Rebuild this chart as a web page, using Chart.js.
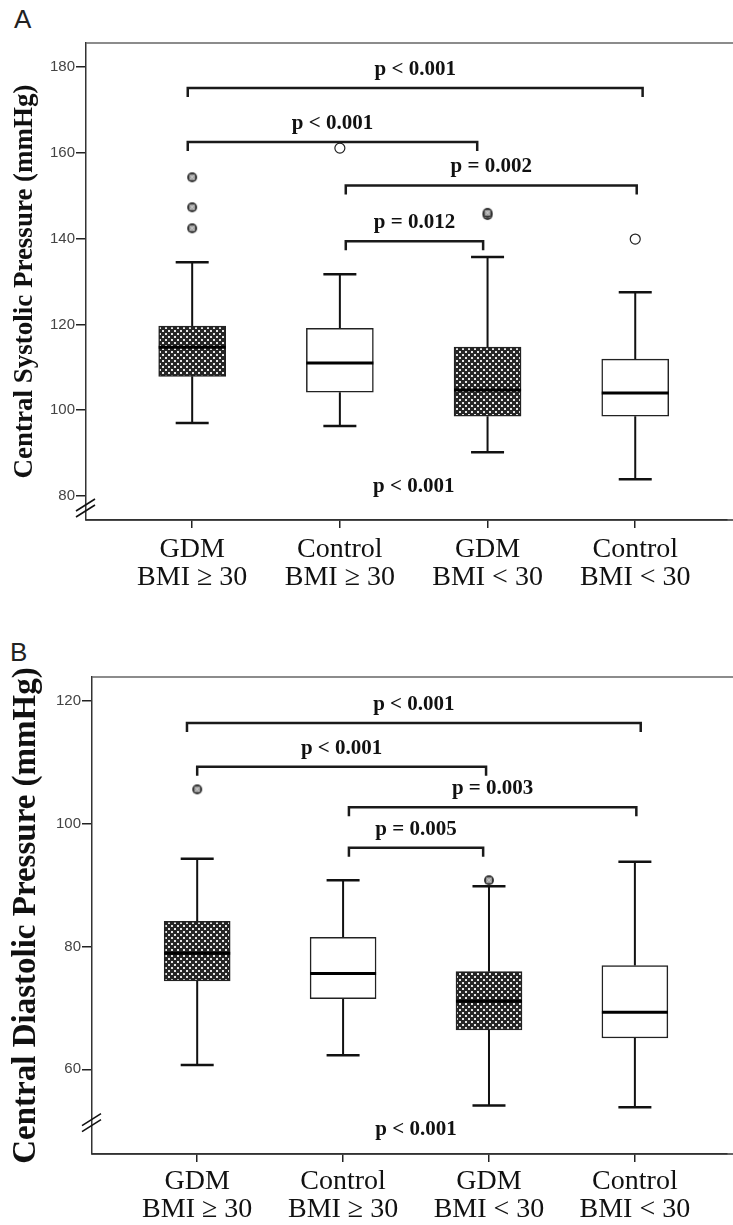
<!DOCTYPE html>
<html>
<head>
<meta charset="utf-8">
<script src="https://cdn.jsdelivr.net/npm/chart.js@4.4.0/dist/chart.umd.min.js"></script>
<style>
  body { margin: 0; background: #fff; width: 733px; height: 1225px; position: relative; overflow: hidden; }
  .panel { position: absolute; font: 26px "Liberation Sans", Arial, sans-serif; color: #222; }
  canvas { position: absolute; left: 0; }
</style>
</head>
<body>
<div class="panel" style="left:14px; top:4px">A</div>
<div class="panel" style="left:10px; top:637px">B</div>
<canvas id="chartA" width="733" height="591" style="top:0"></canvas>
<canvas id="chartB" width="733" height="591" style="top:634px"></canvas>
<script>
// groups along the x axis
const groups = ["GDM", "Control", "GDM", "Control"];
const bmiLabels = ["BMI \u2265 30", "BMI \u2265 30", "BMI < 30", "BMI < 30"];
const hatched = [true, false, true, false];

// A - central systolic pressure (mmHg)
const sysLow = [97.0, 96.3, 90.2, 83.9];
const sysQ1 = [107.9, 104.2, 98.6, 98.6];
const sysMedian = [114.7, 111.0, 104.7, 104.0];
const sysQ3 = [119.6, 119.1, 114.7, 111.9];
const sysHigh = [134.5, 131.7, 135.7, 127.5];
const sysOutliers = [[154.3, 147.3, 142.4], [161.1], [145.5, 146.0], [139.9]];
const sysTicks = [80, 100, 120, 140, 160, 180];
const sysBrackets = [
  { from: 0.97, to: 4.05, y: 175.1, text: "p < 0.001" },
  { from: 0.97, to: 2.93, y: 162.5, text: "p < 0.001" },
  { from: 2.04, to: 4.01, y: 152.4, text: "p = 0.002" },
  { from: 2.04, to: 2.97, y: 139.4, text: "p = 0.012" }
];

// B - central diastolic pressure (mmHg)
const diaLow = [60.7, 62.3, 54.1, 53.8];
const diaQ1 = [74.4, 71.5, 66.4, 65.1];
const diaMedian = [78.9, 75.6, 71.1, 69.3];
const diaQ3 = [84.1, 81.5, 75.9, 76.9];
const diaHigh = [94.3, 90.8, 89.8, 93.8];
const diaOutliers = [[105.6], [], [90.8], []];
const diaTicks = [60, 80, 100, 120];
const diaBrackets = [
  { from: 0.93, to: 4.04, y: 116.4, text: "p < 0.001" },
  { from: 1.0, to: 2.98, y: 109.3, text: "p < 0.001" },
  { from: 2.04, to: 4.01, y: 102.7, text: "p = 0.003" },
  { from: 2.04, to: 2.96, y: 96.1, text: "p = 0.005" }
];

// crosshatch fill for the GDM boxes
const tile = document.createElement("canvas");
tile.width = 6; tile.height = 6;
const tctx = tile.getContext("2d");
tctx.fillStyle = "#262626";
tctx.fillRect(0, 0, 6, 6);
tctx.fillStyle = "#e6e6e6";
tctx.fillRect(0, 0, 2, 2);
tctx.fillRect(3, 3, 2, 2);

// outlier symbol for the GDM groups
const dotImg = document.createElement("canvas");
dotImg.width = 12; dotImg.height = 12;
(function () {
  const c = dotImg.getContext("2d");
  c.fillStyle = "#333";
  c.beginPath(); c.arc(6, 6, 5, 0, Math.PI * 2); c.fill();
  c.strokeStyle = "#c8c8c8"; c.lineWidth = 1.2;
  c.beginPath();
  c.moveTo(3.5, 3.5); c.lineTo(8.5, 8.5);
  c.moveTo(8.5, 3.5); c.lineTo(3.5, 8.5);
  c.stroke();
  c.beginPath(); c.arc(6, 6, 2.2, 0, Math.PI * 2); c.stroke();
})();

function extrasPlugin(d) {
  return {
    id: "boxExtras",
    beforeDatasetsDraw(chart) {
      const { ctx, scales: { x, y } } = chart;
      ctx.save();
      ctx.strokeStyle = "#111";
      d.low.forEach((lo, i) => {
        const cx = x.getPixelForValue(i + 1);
        ctx.lineWidth = 2;
        ctx.beginPath();
        ctx.moveTo(cx, y.getPixelForValue(d.q3[i]));
        ctx.lineTo(cx, y.getPixelForValue(d.high[i]));
        ctx.moveTo(cx, y.getPixelForValue(d.q1[i]));
        ctx.lineTo(cx, y.getPixelForValue(lo));
        ctx.stroke();
        ctx.lineWidth = 2.5;
        ctx.beginPath();
        [d.high[i], lo].forEach(v => {
          const py = y.getPixelForValue(v);
          ctx.moveTo(cx - 16.5, py);
          ctx.lineTo(cx + 16.5, py);
        });
        ctx.stroke();
      });
      ctx.restore();
    },
    afterDatasetsDraw(chart) {
      const { ctx, chartArea, scales: { x, y } } = chart;
      const boxes = chart.getDatasetMeta(0).data;
      ctx.save();
      // medians
      ctx.strokeStyle = "#000";
      ctx.lineWidth = 3;
      d.median.forEach((m, i) => {
        const bar = boxes[i];
        const py = y.getPixelForValue(m);
        ctx.beginPath();
        ctx.moveTo(bar.x - bar.width / 2, py);
        ctx.lineTo(bar.x + bar.width / 2, py);
        ctx.stroke();
      });
      // brackets with p values
      ctx.font = "bold 21px 'Liberation Serif', serif";
      ctx.fillStyle = "#111";
      ctx.textAlign = "center";
      ctx.textBaseline = "alphabetic";
      ctx.strokeStyle = "#1a1a1a";
      ctx.lineWidth = 2.5;
      d.brackets.forEach(b => {
        const x1 = x.getPixelForValue(b.from);
        const x2 = x.getPixelForValue(b.to);
        const py = y.getPixelForValue(b.y);
        ctx.beginPath();
        ctx.moveTo(x1, py + 9);
        ctx.lineTo(x1, py);
        ctx.lineTo(x2, py);
        ctx.lineTo(x2, py + 9);
        ctx.stroke();
        ctx.fillText(b.text, (x1 + x2) / 2, py - 13);
      });
      ctx.fillText("p < 0.001", x.getPixelForValue(2.5), y.getPixelForValue(d.bottomY));
      // top frame line, and the bottom axis running on to the page edge
      ctx.strokeStyle = "#666";
      ctx.lineWidth = 1.5;
      ctx.beginPath();
      ctx.moveTo(chartArea.left, chartArea.top);
      ctx.lineTo(chart.width, chartArea.top);
      ctx.stroke();
      ctx.strokeStyle = "#333";
      ctx.beginPath();
      ctx.moveTo(chartArea.left, x.top);
      ctx.lineTo(chart.width, x.top);
      ctx.stroke();
      // axis break
      const by = y.getPixelForValue(d.breakY);
      ctx.strokeStyle = "#111";
      ctx.lineWidth = 1.6;
      ctx.beginPath();
      [-3, 3].forEach(o => {
        ctx.moveTo(chartArea.left - 10, by + o + 6);
        ctx.lineTo(chartArea.left + 9, by + o - 6);
      });
      ctx.stroke();
      ctx.restore();
    }
  };
}

function makeChart(id, d) {
  const outliers = [];
  d.outliers.forEach((list, i) => list.forEach(v => outliers.push({ x: i + 1, y: v })));
  const pattern = document.getElementById(id).getContext("2d").createPattern(tile, "repeat");

  return new Chart(document.getElementById(id), {
    type: "bar",
    data: {
      datasets: [
        {
          data: d.q1.map((q, i) => ({ x: i + 1, y: [q, d.q3[i]] })),
          backgroundColor: hatched.map(h => h ? pattern : "#fff"),
          borderColor: "#222",
          borderWidth: 1.5,
          borderSkipped: false,
          barThickness: d.boxWidth,
          order: 2
        },
        {
          type: "scatter",
          data: outliers,
          pointStyle: c => hatched[c.raw.x - 1] ? dotImg : "circle",
          pointRadius: 5,
          backgroundColor: "#fff",
          borderColor: "#222",
          borderWidth: 1.2,
          order: 1
        }
      ]
    },
    options: {
      responsive: false,
      animation: false,
      layout: { padding: { top: 43, left: 0, right: 0, bottom: 0 } },
      plugins: { legend: { display: false }, tooltip: { enabled: false } },
      scales: {
        x: {
          type: "linear",
          offset: false,
          min: d.xMin,
          max: d.xMax,
          afterBuildTicks: s => { s.ticks = groups.map((g, i) => ({ value: i + 1 })); },
          afterFit: s => { s.height = 71; s.paddingLeft = 0; s.paddingRight = 0; },
          ticks: {
            autoSkip: false,
            maxRotation: 0,
            padding: d.labelPad,
            color: "#111",
            font: { family: "'Liberation Serif', serif", size: 28, lineHeight: 0.98 },
            callback: v => [groups[v - 1], bmiLabels[v - 1]]
          },
          grid: { display: true, offset: false, drawOnChartArea: false, drawTicks: true, tickLength: 8, color: "#222", lineWidth: 1.5 },
          border: { display: true, color: "#333", width: 1.5 }
        },
        y: {
          min: d.yMin,
          max: d.yMax,
          afterBuildTicks: s => { s.ticks = d.ticks.map(v => ({ value: v })); },
          afterFit: s => { s.width = d.axisLeft; },
          title: {
            display: true,
            text: d.title,
            color: "#111",
            padding: { top: d.titlePad },
            font: { family: "'Liberation Serif', serif", size: d.titleSize, weight: "bold" }
          },
          ticks: {
            padding: 1,
            color: "#444",
            font: { family: "'Liberation Sans', Arial, sans-serif", size: 15 },
            callback: v => String(v)
          },
          grid: { display: true, drawOnChartArea: false, drawTicks: true, tickLength: 10, color: "#222", lineWidth: 1.5 },
          border: { display: true, color: "#333", width: 1.5 }
        }
      }
    },
    plugins: [extrasPlugin(d)]
  });
}

// x range chosen so the plot area (86..726) puts the group centres where the reference has them
makeChart("chartA", {
  low: sysLow, q1: sysQ1, median: sysMedian, q3: sysQ3, high: sysHigh,
  outliers: sysOutliers, ticks: sysTicks, brackets: sysBrackets,
  title: "Central Systolic Pressure (mmHg)", titleSize: 27, titlePad: 9,
  yMin: 74.4, yMax: 185.6, xMin: 0.281, xMax: 4.62, axisLeft: 86,
  boxWidth: 67, bottomY: 80.9, breakY: 77.2, labelPad: 8
});

makeChart("chartB", {
  low: diaLow, q1: diaQ1, median: diaMedian, q3: diaQ3, high: diaHigh,
  outliers: diaOutliers, ticks: diaTicks, brackets: diaBrackets,
  title: "Central Diastolic Pressure (mmHg)", titleSize: 33, titlePad: 7,
  yMin: 46.2, yMax: 123.9, xMin: 0.279, xMax: 4.63, axisLeft: 92,
  boxWidth: 66, bottomY: 49.3, breakY: 51.3, labelPad: 6
});
</script>
</body>
</html>
